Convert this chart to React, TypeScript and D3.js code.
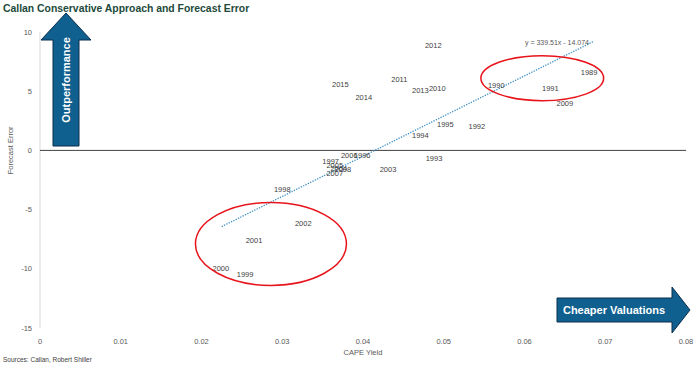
import React, {useEffect, useRef} from 'react';
import * as d3 from 'd3';

const years = [
  1989, 1990, 1991, 1992, 1993, 1994, 1995, 1996, 1997, 1998, 1999, 2000, 2001, 2002,
  2003, 2004, 2005, 2006, 2007, 2008, 2009, 2010, 2011, 2012, 2013, 2014, 2015
];
const capeYield = [
  0.0680, 0.0565, 0.0632, 0.0541, 0.0488, 0.0471, 0.0502, 0.0399, 0.0360, 0.0300, 0.0254, 0.0224, 0.0265, 0.0326,
  0.0431, 0.0370, 0.0365, 0.0383, 0.0365, 0.0375, 0.0650, 0.0492, 0.0445, 0.0487, 0.0471, 0.0401, 0.0372
];
const forecastError = [
  6.58, 5.49, 5.23, 2.03, -0.68, 1.27, 2.19, -0.42, -0.93, -3.29, -10.46, -9.96, -7.59, -6.16,
  -1.60, -1.52, -1.27, -0.42, -1.94, -1.60, 3.97, 5.23, 5.99, 8.86, 5.06, 4.47, 5.57
];

const xTicks = [0, 0.01, 0.02, 0.03, 0.04, 0.05, 0.06, 0.07, 0.08];
const yTicks = [10, 5, 0, -5, -10, -15];

// trendline y = 339.51x - 14.074
const slope = 339.51;
const intercept = -14.074;
const trendRange = [0.0225, 0.0685];

// red highlight ellipses, data coords: [cx, cy, rx, ry]
const ellipses = [
  [0.0622, 6.1, 0.0076, 1.9],
  [0.0286, -7.9, 0.00935, 3.5]
];

function App() {
  const chartRef = useRef(null);

  useEffect(() => {
    draw();
  });

  const draw = () => {
    const svg = d3.select(chartRef.current);
    svg.selectAll('*').remove();

    const xScale = d3.scaleLinear().domain([0, 0.08]).range([40, 686]);
    const yScale = d3.scaleLinear().domain([-15, 10]).range([328, 32]);

    const font = 'Liberation Sans, Arial, sans-serif';

    // title
    svg.append('text')
      .attr('x', 3).attr('y', 12)
      .attr('font-family', font).attr('font-size', 10.4).attr('font-weight', 'bold')
      .attr('fill', '#1d4a3a')
      .text('Callan Conservative Approach and Forecast Error');

    // y axis line
    svg.append('line')
      .attr('x1', xScale(0)).attr('x2', xScale(0))
      .attr('y1', yScale(10)).attr('y2', yScale(-15))
      .attr('stroke', '#d9d9d9').attr('stroke-width', 1);

    // zero line
    svg.append('line')
      .attr('x1', xScale(0)).attr('x2', xScale(0.08))
      .attr('y1', yScale(0)).attr('y2', yScale(0))
      .attr('stroke', '#404040').attr('stroke-width', 1);

    svg.selectAll('.ytick').data(yTicks).enter().append('text')
      .attr('class', 'ytick')
      .attr('x', 32).attr('y', d => yScale(d)).attr('dy', '0.35em')
      .attr('text-anchor', 'end')
      .attr('font-family', font).attr('font-size', 7.5).attr('fill', '#595959')
      .text(d => d);

    svg.selectAll('.xtick').data(xTicks).enter().append('text')
      .attr('class', 'xtick')
      .attr('x', d => xScale(d)).attr('y', 341).attr('dy', '0.35em')
      .attr('text-anchor', 'middle')
      .attr('font-family', font).attr('font-size', 7.5).attr('fill', '#595959')
      .text(d => d);

    svg.append('text')
      .attr('x', xScale(0.04)).attr('y', 352).attr('dy', '0.35em')
      .attr('text-anchor', 'middle')
      .attr('font-family', font).attr('font-size', 7.5).attr('fill', '#595959')
      .text('CAPE Yield');

    svg.append('text')
      .attr('transform', `translate(10,${yScale(0)}) rotate(-90)`)
      .attr('text-anchor', 'middle').attr('dy', '0.35em')
      .attr('font-family', font).attr('font-size', 7.5).attr('fill', '#595959')
      .text('Forecast Error');

    svg.append('text')
      .attr('x', 3).attr('y', 360).attr('dy', '0.35em')
      .attr('font-family', font).attr('font-size', 6.5).attr('fill', '#404040')
      .text('Sources: Callan, Robert Shiller');

    // trendline
    const line = d3.line<number>()
      .x(d => xScale(d))
      .y(d => yScale(slope * d + intercept));
    svg.append('path')
      .datum(trendRange)
      .attr('d', line as any)
      .attr('stroke', '#3b8fc7').attr('stroke-width', 1.3)
      .attr('stroke-dasharray', '1.3,1.3')
      .attr('fill', 'none');

    svg.append('text')
      .attr('x', 557).attr('y', yScale(9.1)).attr('dy', '0.35em')
      .attr('text-anchor', 'middle')
      .attr('font-family', font).attr('font-size', 7).attr('fill', '#595959')
      .text('y = 339.51x - 14.074');

    // data labels
    svg.selectAll('.lbl').data(years).enter().append('text')
      .attr('class', 'lbl')
      .attr('x', (d, i) => xScale(capeYield[i]))
      .attr('y', (d, i) => yScale(forecastError[i]))
      .attr('dy', '0.35em')
      .attr('text-anchor', 'middle')
      .attr('font-family', font).attr('font-size', 7.5).attr('fill', '#404040')
      .text(d => d);

    // ellipses
    svg.selectAll('.ell').data(ellipses).enter().append('ellipse')
      .attr('class', 'ell')
      .attr('cx', d => xScale(d[0]))
      .attr('cy', d => yScale(d[1]))
      .attr('rx', d => xScale(d[2]) - xScale(0))
      .attr('ry', d => yScale(0) - yScale(d[3]))
      .attr('fill', 'none').attr('stroke', '#e8141c').attr('stroke-width', 1.5);

    // up arrow
    const up = [
      [xScale(0.00322), 13], [91, 40], [79, 40], [79, 146],
      [53, 146], [53, 40], [41, 40]
    ];
    svg.append('polygon')
      .attr('points', up.map(p => p.join(',')).join(' '))
      .attr('fill', '#0f5f8f').attr('stroke', '#0b2f4d').attr('stroke-width', 1);
    svg.append('text')
      .attr('transform', `translate(66,80) rotate(-90)`)
      .attr('text-anchor', 'middle').attr('dy', '0.35em')
      .attr('font-family', font).attr('font-size', 11).attr('font-weight', 'bold')
      .attr('fill', '#fff')
      .text('Outperformance');

    // right arrow
    const right = [
      [557, 298], [672, 298], [672, 287], [690, 310],
      [672, 333], [672, 322], [557, 322]
    ];
    svg.append('polygon')
      .attr('points', right.map(p => p.join(',')).join(' '))
      .attr('fill', '#0f5f8f').attr('stroke', '#0b2f4d').attr('stroke-width', 1);
    svg.append('text')
      .attr('x', 614).attr('y', 310).attr('dy', '0.35em')
      .attr('text-anchor', 'middle')
      .attr('font-family', font).attr('font-size', 11).attr('font-weight', 'bold')
      .attr('fill', '#fff')
      .text('Cheaper Valuations');
  };

  return (
    <svg ref={chartRef} width={700} height={365}
      style={{position: 'absolute', left: 0, top: 0, background: '#fff'}}/>
  );
}

export default App;
